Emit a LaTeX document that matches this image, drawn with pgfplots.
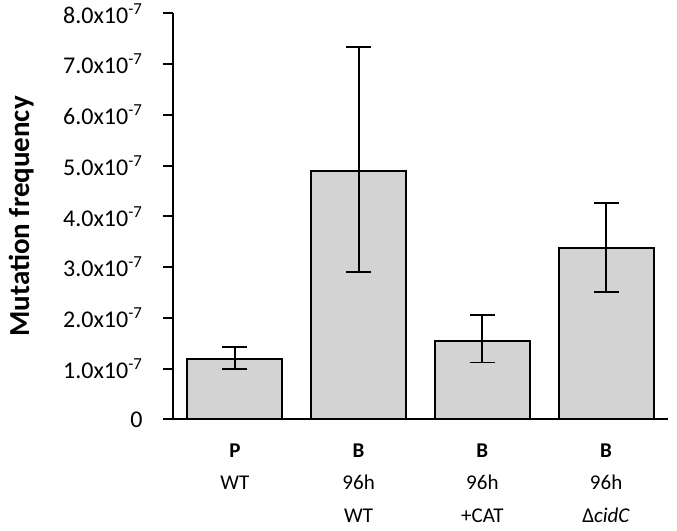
\documentclass[border=0pt]{standalone}
\usepackage{pgfplots}
\pgfplotsset{compat=1.18}
\usepackage{fontspec}
\setmainfont{Carlito}
\definecolor{barfill}{RGB}{211,211,211}
\begin{document}
\begin{tikzpicture}
\begin{axis}[
  width=495pt, height=406pt, scale only axis,
  xmin=-0.5, xmax=3.5, ymin=0, ymax=8,
  axis x line*=bottom, axis y line*=left,
  axis line style={-, line width=1.9pt},
  xtick={0,1,2,3},
  xticklabels={{\textbf{P}\\WT},{\textbf{B}\\96h\\WT},{\textbf{B}\\96h\\+CAT},{\textbf{B}\\96h\\Δ\textit{cidC}}},
  xticklabel style={align=center, font=\fontsize{21}{32.5}\selectfont, yshift=-11pt},
  xtick style={draw=none},
  ytick={0,1,2,3,4,5,6,7,8},
  yticklabels={0,1.0x10\textsuperscript{-7},2.0x10\textsuperscript{-7},3.0x10\textsuperscript{-7},4.0x10\textsuperscript{-7},5.0x10\textsuperscript{-7},6.0x10\textsuperscript{-7},7.0x10\textsuperscript{-7},8.0x10\textsuperscript{-7}},
  yticklabel style={font=\fontsize{24}{28}\selectfont, xshift=-17pt},
  tick align=outside, major tick length=10pt,
  ytick style={line width=1.9pt, black},
  ylabel={\textbf{Mutation frequency}},
  ylabel style={font=\fontsize{29}{32}\selectfont, inner sep=0pt},
  ylabel shift=26pt,
  /pgf/number format/assume math mode=true,
]
\addplot[ybar, bar width=95pt, fill=barfill, draw=black, line width=1.9pt,
  error bars/.cd, y dir=both, y explicit,
  error bar style={line width=1.9pt, black},
  error mark options={rotate=90, mark size=12.5pt, line width=1.9pt, black}]
coordinates {
  (0,1.19) += (0,0.23) -= (0,0.19)
  (1,4.90) += (0,2.43) -= (0,1.99)
  (2,1.55) += (0,0.50) -= (0,0.43)
  (3,3.38) += (0,0.89) -= (0,0.87)
};
\end{axis}
\path (current axis.south east) ++(9pt,0pt);
\path (current axis.south west) ++(-173pt,-111pt);
\end{tikzpicture}
\end{document}
